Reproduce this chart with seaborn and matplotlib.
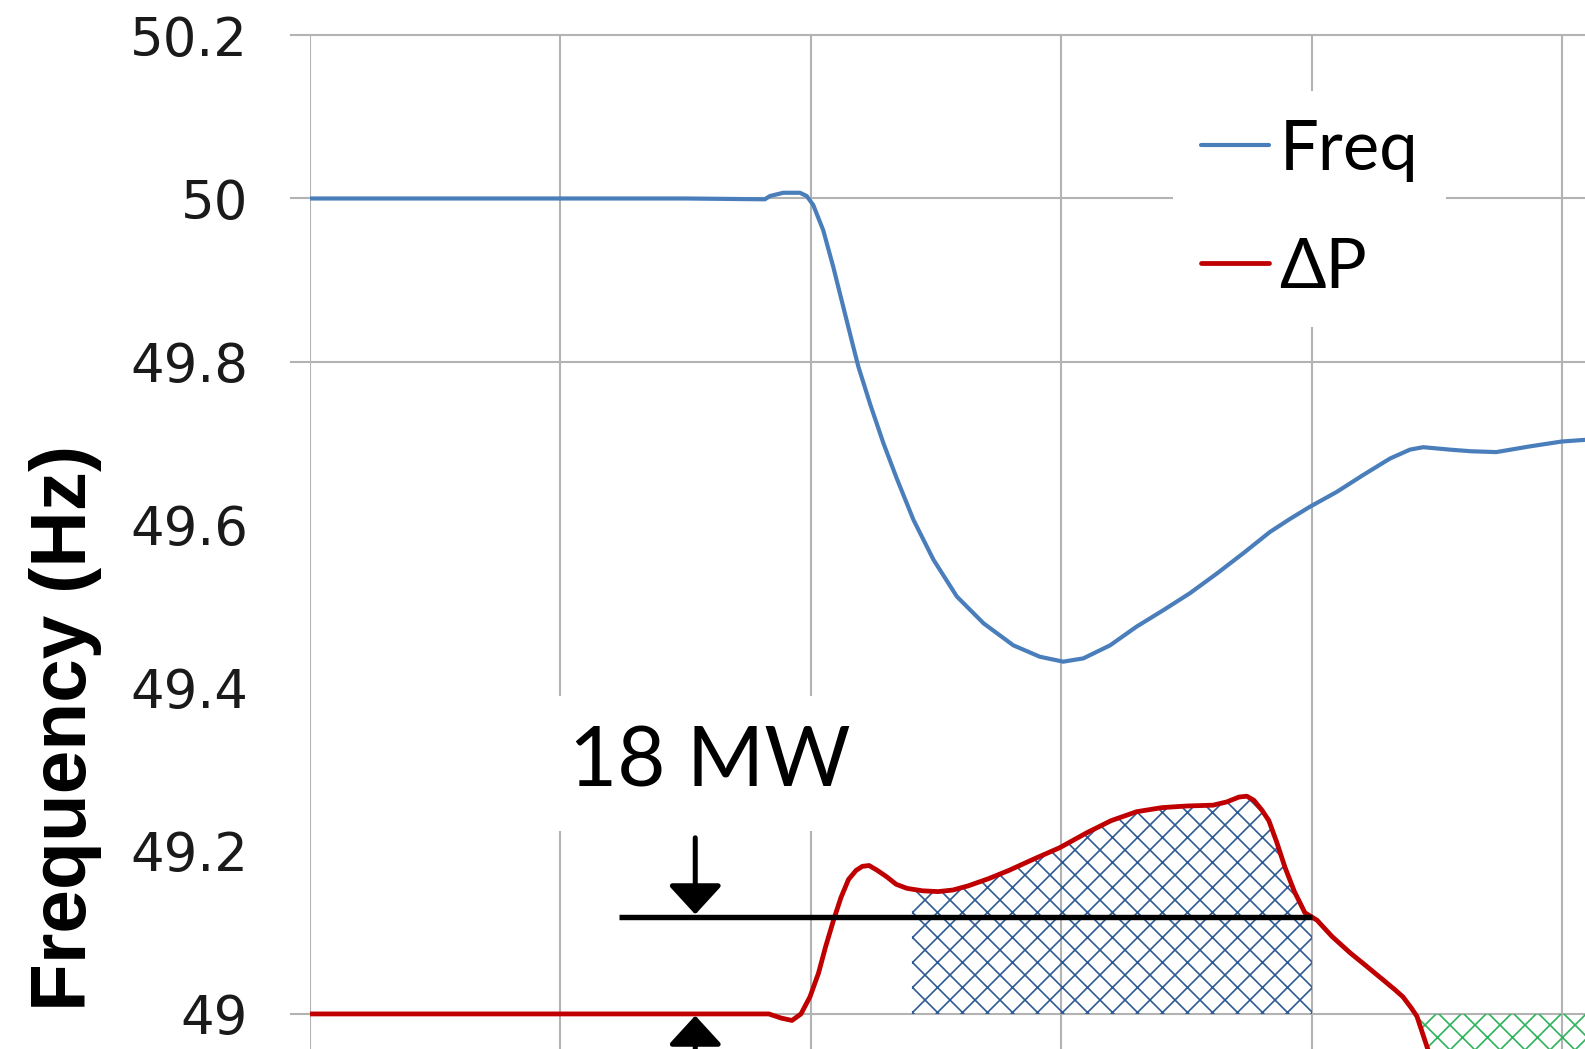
import numpy as np
import pandas as pd
import matplotlib
matplotlib.use("Agg")
import matplotlib.pyplot as plt
import seaborn as sns

# ---------------- data ----------------
freq_t = [0.000, 1.500, 1.816, 1.836, 1.889, 1.956, 1.983, 2.009, 2.049, 2.089,
          2.129, 2.169, 2.189, 2.236, 2.289, 2.342, 2.409, 2.489, 2.582, 2.689,
          2.808, 2.914, 3.007, 3.087, 3.194, 3.300, 3.406, 3.513, 3.620, 3.726,
          3.832, 3.912, 3.992, 4.098, 4.205, 4.311, 4.391, 4.444, 4.551, 4.636,
          4.736, 4.870, 4.998, 5.090]
freq_hz = [50.000, 50.000, 49.999, 50.003, 50.007, 50.007, 50.003, 49.992, 49.961, 49.916,
           49.867, 49.818, 49.794, 49.748, 49.700, 49.657, 49.606, 49.557, 49.512, 49.479,
           49.452, 49.438, 49.432, 49.436, 49.452, 49.475, 49.495, 49.516, 49.540, 49.565,
           49.591, 49.607, 49.622, 49.640, 49.661, 49.681, 49.692, 49.695, 49.692, 49.690,
           49.689, 49.696, 49.702, 49.704]

dp_t = [0.000, 1.832, 1.880, 1.924, 1.960, 1.996, 2.030, 2.058, 2.090, 2.120,
        2.150, 2.180, 2.205, 2.232, 2.265, 2.303, 2.340, 2.383, 2.445, 2.507,
        2.567, 2.627, 2.710, 2.790, 2.890, 2.994, 3.100, 3.198, 3.300, 3.401,
        3.500, 3.605, 3.660, 3.709, 3.740, 3.768, 3.800, 3.828, 3.860, 3.892,
        3.930, 3.972, 4.020, 4.080, 4.152, 4.220, 4.283, 4.330, 4.363, 4.395,
        4.419, 4.459, 4.520, 4.600, 4.800, 5.090]
dp_val = [49.000, 49.000, 48.995, 48.992, 49.000, 49.021, 49.050, 49.082, 49.115, 49.143,
          49.165, 49.176, 49.181, 49.182, 49.176, 49.168, 49.159, 49.154, 49.151, 49.150,
          49.152, 49.157, 49.166, 49.176, 49.190, 49.204, 49.222, 49.237, 49.248, 49.253,
          49.255, 49.256, 49.260, 49.266, 49.267, 49.262, 49.250, 49.237, 49.210, 49.180,
          49.150, 49.124, 49.115, 49.095, 49.075, 49.058, 49.042, 49.030, 49.021, 49.008,
          48.997, 48.960, 48.900, 48.840, 48.760, 48.720]

y_ticks = [49.0, 49.2, 49.4, 49.6, 49.8, 50.0, 50.2]
y_tick_labels = ["49", "49.2", "49.4", "49.6", "49.8", "50", "50.2"]
grid_y = [49.0, 49.8, 50.0, 50.2]
grid_x = [0, 1, 2, 3, 4, 5]

base_level = 49.0
ref_level = 49.119          # 18 MW reference line
ref_span = (1.234, 4.0)
blue_span = (2.403, 4.0)
green_start = 4.43
arrow_x = 1.538
series_names = ["Freq", "\u0394P"]
annot_text = "18 MW"

# ---------------- style ----------------
sns.set_style("white")
plt.rcParams["hatch.linewidth"] = 0.8
DPI = 150
W, H = 1585, 1049
fig = plt.figure(figsize=(W / DPI, H / DPI), dpi=DPI)
ax = fig.add_axes([310 / W, 0.0, 1 - 310 / W, 1 - 35.4 / H])
ax.set_xlim(0, 5.09)
ax.set_ylim(48.957, 50.2)
for s in ax.spines.values():
    s.set_visible(False)

GRID = "#b3b3b3"
ax.vlines(grid_x, 48.957, 50.2, color=GRID, lw=1.0, zorder=0)
ax.hlines(grid_y, -0.08, 5.09, color=GRID, lw=1.0, zorder=0, clip_on=False)

# hatched areas
xb = np.linspace(blue_span[0], blue_span[1], 300)
yb = np.interp(xb, dp_t, dp_val)
ax.fill_between(xb, base_level, yb, facecolor="none", edgecolor="#2f5a94",
                hatch="xx", linewidth=0, zorder=1)
xg = np.linspace(green_start, 5.09, 200)
yg = np.interp(xg, dp_t, dp_val)
ax.fill_between(xg, yg, base_level, facecolor="none", edgecolor="#2db35a",
                hatch="xx", linewidth=0, zorder=1)

# series
df_f = pd.DataFrame({"t": freq_t, "v": freq_hz})
df_p = pd.DataFrame({"t": dp_t, "v": dp_val})
sns.lineplot(data=df_f, x="t", y="v", color="#4a7ebb", lw=2.0, label=series_names[0],
             ax=ax, sort=False, estimator=None, zorder=3)
sns.lineplot(data=df_p, x="t", y="v", color="#c00000", lw=2.3, label=series_names[1],
             ax=ax, sort=False, estimator=None, zorder=3)

# reference line and arrows
ax.hlines(ref_level, ref_span[0], ref_span[1], color="black", lw=2.6, zorder=5)
aprops = dict(arrowstyle="-|>,head_length=12,head_width=11", mutation_scale=1,
              lw=2.4, color="black", shrinkA=0, shrinkB=0)
ax.annotate("", xy=(arrow_x, ref_level + 0.003), xytext=(arrow_x, 49.216),
            arrowprops=aprops, zorder=6)
ax.annotate("", xy=(arrow_x, base_level - 0.002), xytext=(arrow_x, 48.80),
            arrowprops=aprops, zorder=6, annotation_clip=False)

ax.text(1.597, 49.279, annot_text, ha="center", va="baseline",
        fontsize=40, family=["Lato", "Open Sans", "DejaVu Sans"], color="black",
        bbox=dict(facecolor="white", edgecolor="none", pad=14), zorder=4)

# axes labels
ax.set_xticks([])
ax.set_yticks(y_ticks)
ax.set_yticklabels(y_tick_labels)
ax.tick_params(axis="y", length=0, pad=29.8, labelsize=25.4, labelcolor="#1a1a1a")
for lab in ax.get_yticklabels():
    lab.set_family(["DejaVu Sans"])
ax.set_xlabel("")
ax.set_ylabel("Frequency (Hz)", fontsize=37.6, fontweight="bold",
              family=["Liberation Sans", "DejaVu Sans"], color="black")
ax.yaxis.set_label_coords(-0.163, 0.3167)

leg = ax.legend(loc="upper left", bbox_to_anchor=(1173 / W, 1 - 91 / H),
                bbox_transform=fig.transFigure, borderaxespad=0,
                frameon=True, facecolor="white", edgecolor="none", framealpha=1,
                prop=dict(family=["Lato", "Open Sans", "DejaVu Sans"], size=33),
                handlelength=1.0, handletextpad=0.15, labelspacing=0.8,
                borderpad=0.4, labelcolor="black")
leg.get_frame().set_boxstyle("square", pad=0)
leg.set_zorder(7)

fig.savefig("out.png", dpi=DPI)
